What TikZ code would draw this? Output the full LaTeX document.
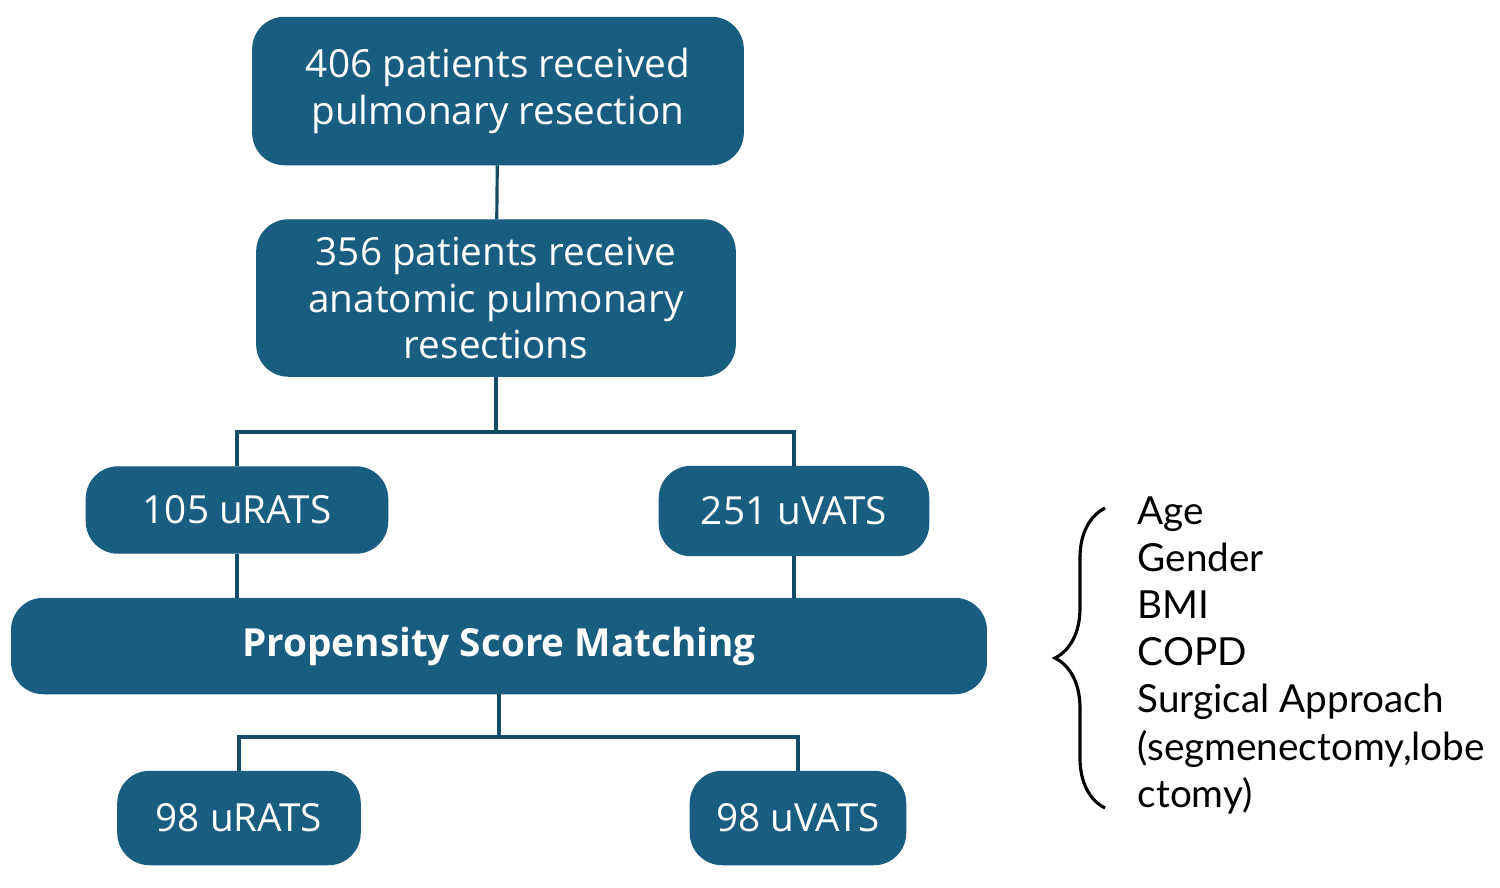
\documentclass[tikz,border=0pt]{standalone}
\usepackage{fontspec}
\setmainfont{Open Sans}
\newfontfamily\listfont{Lato}
\usetikzlibrary{decorations.pathreplacing}
\definecolor{boxblue}{HTML}{195E80}
\tikzset{
  box/.style={draw=boxblue, fill=boxblue, rounded corners=9pt, text=white,
    align=center, font=\fontsize{11}{13.2}\selectfont, inner sep=0pt},
  link/.style={boxblue!80!black, line width=0.9pt}
}
\begin{document}
\begin{tikzpicture}[x=0.01cm,y=-0.01cm]
    \useasboundingbox (0,0) rectangle (1500,887);

    \node[box, minimum width=4.9cm, minimum height=1.47cm] (total) at (498,91) {406 patients received\\pulmonary resection};
    \node[box, minimum width=4.78cm, minimum height=1.56cm] (anat) at (496,298) {356 patients receive\\anatomic pulmonary\\resections};
    \node[box, minimum width=3.01cm, minimum height=0.86cm] (rats) at (237,510) {105 uRATS};
    \node[box, minimum width=2.69cm, minimum height=0.89cm] (vats) at (794,511) {251 uVATS};
    \node[box, minimum width=9.74cm, minimum height=0.95cm, font=\fontsize{11}{13.2}\selectfont\bfseries] (psm) at (499,646) {Propensity Score Matching};
    \node[box, minimum width=2.42cm, minimum height=0.93cm] (mrats) at (239,818) {98 uRATS};
    \node[box, minimum width=2.15cm, minimum height=0.93cm] (mvats) at (798,818) {98 uVATS};

    \draw[link] (total) -- (anat);
    \draw[link] (anat.south) -- (496,432) -| (rats.north);
    \draw[link] (496,432) -| (vats.north);
    \draw[link] (rats) -- (rats |- psm.north);
    \draw[link] (vats) -- (vats |- psm.north);
    \draw[link] (psm.south) -- (499,737) -| (mrats.north);
    \draw[link] (499,737) -| (mvats.north);

    % covariates
    \draw[black, line width=0.9pt, decorate, decoration={brace, amplitude=0.5cm, aspect=0.5}]
        (1105,808) -- (1105,508);
    \node[anchor=north west, align=left, inner sep=0pt,
          font=\listfont\fontsize{11}{13.4}\selectfont] (covars) at (1137,496)
        {Age\\Gender\\BMI\\COPD\\Surgical Approach\\(segmenectomy,lobe\\ctomy)};
\end{tikzpicture}
\end{document}
